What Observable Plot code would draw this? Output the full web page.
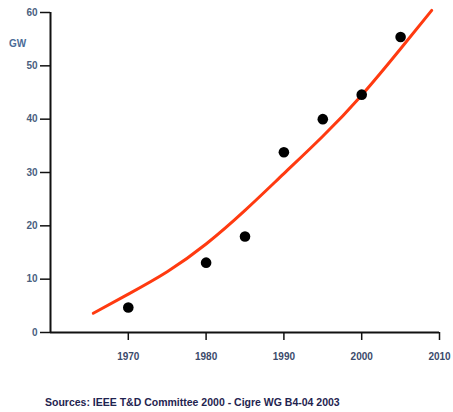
<!DOCTYPE html>
<html>
<head>
<meta charset="utf-8">
<script src="https://cdn.jsdelivr.net/npm/d3@7"></script>
<script src="https://cdn.jsdelivr.net/npm/@observablehq/plot@0.6"></script>
<style>
  html, body { margin: 0; padding: 0; background: #fff; }
  #chart { width: 453px; height: 412px; position: relative; }
  #caption { position: absolute; left: 45px; top: 396px; font: bold 10.5px "Liberation Sans", Arial, sans-serif; color: #1f2450; white-space: nowrap; }
</style>
</head>
<body>
<div id="chart"></div>
<script>
// Observed capacity (GW)
const years = [1970, 1980, 1985, 1990, 1995, 2000, 2005];
const gw = [4.7, 13.1, 18.0, 33.8, 40.0, 44.6, 55.4];
// Fitted trend curve
const fitYears = [1965.5, 1970, 1975, 1980, 1985, 1990, 1995, 2000, 2005, 2009];
const fitGW = [3.6, 7.2, 11.4, 16.6, 22.9, 29.8, 36.8, 44.5, 53.2, 60.4];
const xTicks = [1970, 1980, 1990, 2000, 2010];
const yTicks = [0, 10, 20, 30, 40, 50, 60];
const yLabel = "GW";
const caption = "Sources: IEEE T&D Committee 2000 - Cigre WG B4-04 2003";

const points = years.map((y, i) => ({year: y, gw: gw[i]}));
const fit = fitYears.map((y, i) => ({year: y, gw: fitGW[i]}));

const plot = Plot.plot({
  width: 453,
  height: 390,
  marginLeft: 50,
  marginRight: 14,
  marginTop: 12,
  marginBottom: 58,
  style: {fontFamily: "Liberation Sans, Arial, sans-serif", fontSize: "10px", fontWeight: "bold", color: "#3b4a6b", background: "#fff"},
  x: {domain: [1960, 2010]},
  y: {domain: [0, 60]},
  marks: [
    Plot.axisX({ticks: xTicks, tickFormat: d => String(d), tickSize: 8, tickPadding: 12, stroke: "#111", strokeWidth: 1.5, label: null, fill: "#3b4a6b"}),
    Plot.axisY({ticks: yTicks, tickSize: 10, tickPadding: 3, stroke: "#111", strokeWidth: 1.5, label: null, fill: "#4a5f80"}),
    Plot.ruleX([1960], {stroke: "#111", strokeWidth: 2}),
    Plot.ruleY([0], {stroke: "#111", strokeWidth: 2}),
    Plot.text([yLabel], {x: () => 1960, y: () => 54.2, dx: -33, textAnchor: "middle", fill: "#4a6a96", fontSize: 10}),
    Plot.line(fit, {x: "year", y: "gw", stroke: "#ff3a10", strokeWidth: 3, curve: "natural"}),
    Plot.dot(points, {x: "year", y: "gw", r: 5.3, fill: "#000", stroke: "none"})
  ]
});
document.getElementById("chart").appendChild(plot);
const cap = document.createElement("div");
cap.id = "caption";
cap.textContent = caption;
document.getElementById("chart").appendChild(cap);
</script>
</body>
</html>
